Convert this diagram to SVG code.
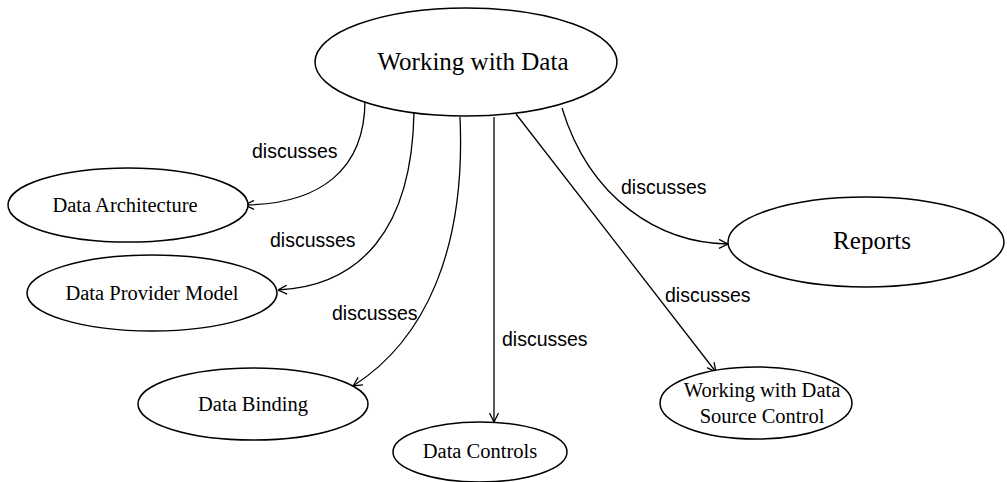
<svg xmlns="http://www.w3.org/2000/svg" width="1007" height="482" viewBox="0 0 1007 482">
<style>
.node ellipse{fill:#fff;stroke:#000;stroke-width:1.5}
.node text{font-family:"Liberation Serif","Times New Roman",serif;font-size:20.5px;fill:#000;text-anchor:middle}
.node text.big{font-size:25px}
.edges path{fill:none;stroke:#000;stroke-width:1.3;marker-end:url(#arr)}
.lbl{font-family:"Liberation Sans",Arial,sans-serif;font-size:19.5px;fill:#000}
</style>
<defs>
<marker id="arr" viewBox="0 0 10 10" refX="10" refY="5" markerWidth="10" markerHeight="10" markerUnits="userSpaceOnUse" orient="auto">
<path d="M1,0.5 L10,5 L1,9.5" fill="none" stroke="#000" stroke-width="1.3"/>
</marker>
</defs>
<rect width="1007" height="482" fill="#fff"/>
<g class="edges" id="connectors">
<path d="M365,100 C365,170 320,204 245,205"/>
<path d="M414,112 C412,230 360,286 278,290"/>
<path d="M460,117 C466,250 425,340 353,386"/>
<path d="M494,117 L494,422"/>
<path d="M516,114 L716,372"/>
<path d="M562,108 C590,200 660,243 728,244"/>
<text class="lbl" x="252" y="158">discusses</text>
<text class="lbl" x="270" y="247">discusses</text>
<text class="lbl" x="332" y="320">discusses</text>
<text class="lbl" x="502" y="346">discusses</text>
<text class="lbl" x="665" y="302">discusses</text>
<text class="lbl" x="621" y="194">discusses</text>
</g>
<g class="node" id="n-main">
<ellipse cx="466" cy="62" rx="151" ry="54"/>
<text class="big" x="473" y="70">Working with Data</text>
</g>
<g class="node" id="n-arch">
<ellipse cx="128" cy="205" rx="120" ry="37"/>
<text x="125" y="212">Data Architecture</text>
</g>
<g class="node" id="n-provider">
<ellipse cx="152" cy="293" rx="125" ry="38"/>
<text x="152" y="300">Data Provider Model</text>
</g>
<g class="node" id="n-binding">
<ellipse cx="253" cy="404" rx="115" ry="36"/>
<text x="253" y="411">Data Binding</text>
</g>
<g class="node" id="n-controls">
<ellipse cx="480" cy="452" rx="87" ry="30"/>
<text x="480" y="458">Data Controls</text>
</g>
<g class="node" id="n-reports">
<ellipse cx="866" cy="242" rx="138" ry="45"/>
<text class="big" x="872" y="249">Reports</text>
</g>
<g class="node" id="n-source">
<ellipse cx="756" cy="403" rx="96" ry="36"/>
<text x="762" y="397">Working with Data</text>
<text x="762" y="423">Source Control</text>
</g>
</svg>
